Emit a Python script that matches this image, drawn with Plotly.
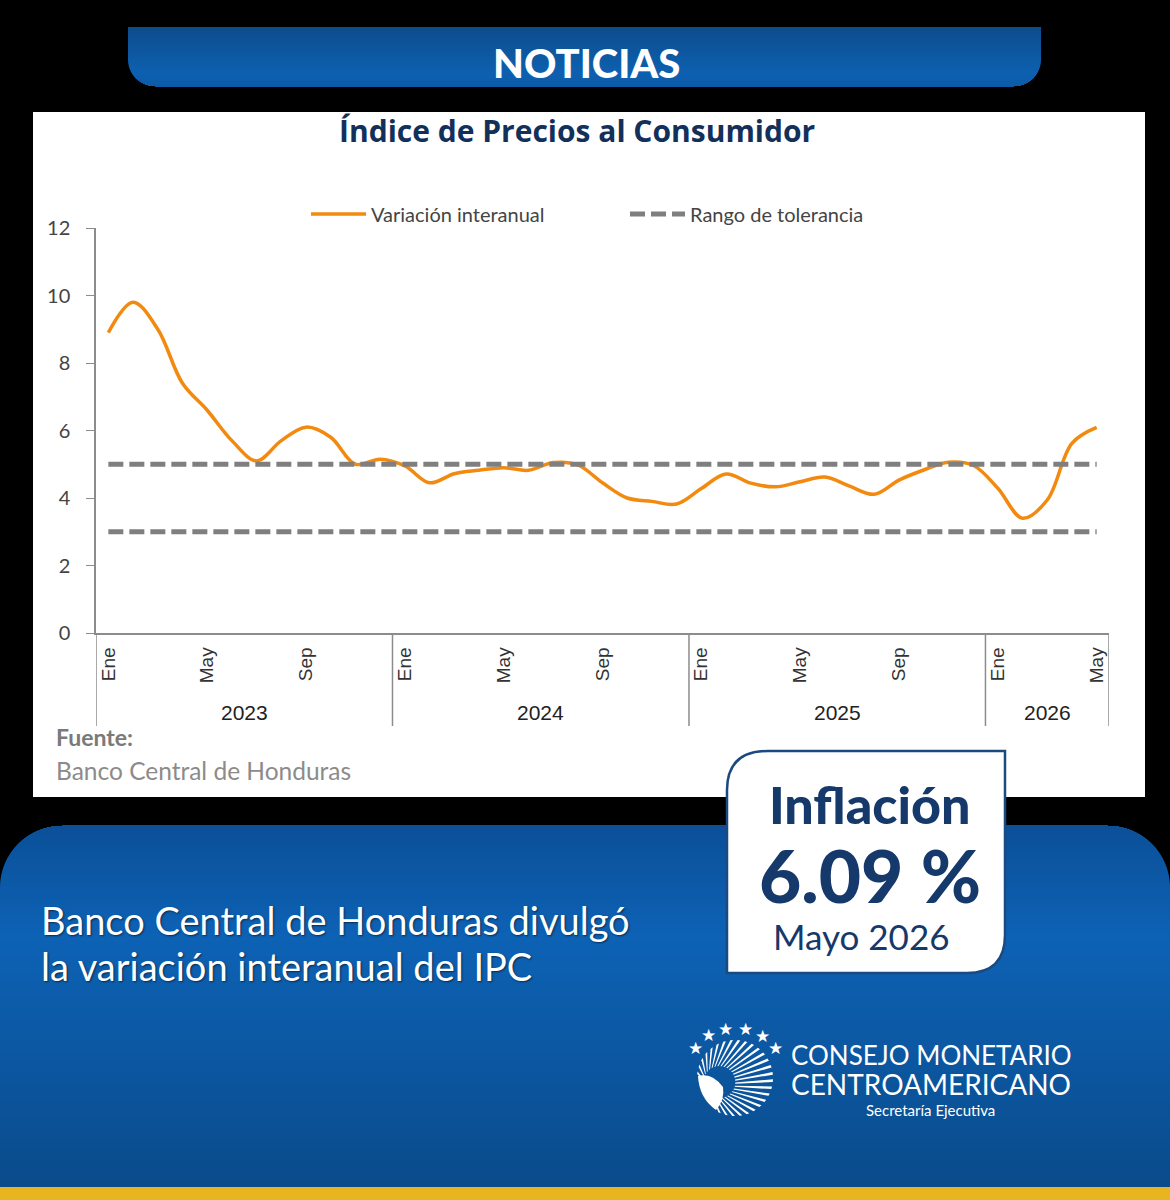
import math
import plotly.graph_objects as go

W, H = 1170, 1200

meses = ["Ene", "Feb", "Mar", "Abr", "May", "Jun", "Jul", "Ago", "Sep", "Oct", "Nov", "Dic"]
anios = [2023, 2024, 2025, 2026]
meses_por_anio = [12, 12, 12, 5]
etiquetas_mes = ["Ene", "May", "Sep"]

ipc_2023 = [8.9, 9.8, 9.0, 7.4, 6.6, 5.7, 5.1, 5.7, 6.1, 5.8, 5.0, 5.15]
ipc_2024 = [4.95, 4.45, 4.72, 4.82, 4.9, 4.82, 5.05, 4.98, 4.45, 4.0, 3.9, 3.82]
ipc_2025 = [4.28, 4.71, 4.44, 4.33, 4.48, 4.62, 4.35, 4.11, 4.53, 4.83, 5.06, 4.97]
ipc_2026 = [4.29, 3.4, 3.94, 5.62, 6.09]
rango_sup = [5] * 41
rango_inf = [3] * 41

categorias = [f"{m} {a}" for a, n in zip(anios, meses_por_anio) for m in meses[:n]]
ipc = ipc_2023 + ipc_2024 + ipc_2025 + ipc_2026
ticks = [c for c in categorias if c.split()[0] in etiquetas_mes]
ticks_txt = [c.split()[0] for c in ticks]

FONT = "Lato"
AZUL = "#16396b"
GRIS = "#7f7f7f"


# pixel position on the page -> paper fraction
def px(x):
    return x / W


def py(y):
    return 1 - y / H


def ruta(pts):
    # pts: list of (command, x, y, ...) in page pixels
    out = []
    for p in pts:
        cmd, vals = p[0], p[1:]
        coords = [px(v) if i % 2 == 0 else py(v) for i, v in enumerate(vals)]
        out.append(cmd + " " + " ".join(f"{c:.5f}" for c in coords))
    return " ".join(out) + " Z"


def mezcla(c1, c2, t):
    a = [int(c1[i:i + 2], 16) for i in (1, 3, 5)]
    b = [int(c2[i:i + 2], 16) for i in (1, 3, 5)]
    return "rgb(" + ",".join(str(round(a[i] + (b[i] - a[i]) * t)) for i in range(3)) + ")"


def degradado(y, paradas):
    for (y0, c0), (y1, c1) in zip(paradas, paradas[1:]):
        if y <= y1:
            return mezcla(c0, c1, (y - y0) / (y1 - y0))
    return paradas[-1][1]


def rect(x0, y0, x1, y1, color):
    return dict(type="rect", xref="paper", yref="paper", x0=px(x0), x1=px(x1), y0=py(y0), y1=py(y1),
                fillcolor=color, line_width=0, layer="below")


def texto(x, y, s, size, color, anchor="center", bold=False, family=FONT, shadow=None, weight=None):
    f = dict(family=family, size=size, color=color)
    if bold:
        f["weight"] = weight or 700
    if shadow:
        f["shadow"] = shadow
    return dict(x=px(x), y=py(y), xref="paper", yref="paper", text=s, showarrow=False,
                xanchor=anchor, yanchor="middle", font=f)


shapes = []
annots = []

# white panel
shapes.append(rect(33, 112, 1145, 797, "white"))

# top banner
stops_top = [(27, "#0d4c8c"), (72, "#0d60b0"), (87, "#0c5aa6")]
for y in range(27, 87):
    r = 27
    dy = max(0, y + 1 - (87 - r))
    ins = r - math.sqrt(max(0, r * r - dy * dy))
    shapes.append(rect(128 + ins, y, 1041 - ins, y + 1, degradado(y, stops_top)))

# bottom panel
stops_bot = [(825, "#0b4f98"), (935, "#0d62b5"), (1187, "#0a4b8b")]
for y in range(825, 1187):
    r = 62
    dy = max(0, (825 + r) - y)
    ins = r - math.sqrt(max(0, r * r - dy * dy))
    shapes.append(rect(ins, y, W - ins, y + 1, degradado(y, stops_bot)))
shapes.append(rect(0, 1187, W, 1200, "#e8b521"))

# inflation callout
shapes.append(dict(type="path", xref="paper", yref="paper", layer="below", fillcolor="white",
                   line=dict(color="#1a4a80", width=2.5),
                   path=ruta([("M", 727, 790), ("Q", 727, 751, 768, 751), ("L", 1005, 751), ("L", 1005, 935),
                              ("Q", 1005, 973, 967, 973), ("L", 727, 973)])))

# logo fan
cx, cy, rad = 735, 1078, 38
ox, oy = 708, 1085
for i in range(27):
    ang = math.radians(172 - i * 11)
    a1 = ang + 0.035
    a2 = ang - 0.035
    e1 = (cx + rad * math.cos(a1), cy - rad * math.sin(a1))
    e2 = (cx + rad * math.cos(a2), cy - rad * math.sin(a2))
    s1 = (ox + (e1[0] - ox) * 0.42, oy + (e1[1] - oy) * 0.42)
    s2 = (ox + (e2[0] - ox) * 0.42, oy + (e2[1] - oy) * 0.42)
    shapes.append(dict(type="path", xref="paper", yref="paper", layer="below", fillcolor="white", line_width=0,
                       path=ruta([("M", *s1), ("L", *e1), ("L", *e2), ("L", *s2)])))
shapes.append(dict(type="path", xref="paper", yref="paper", layer="below", fillcolor="white", line_width=0,
                   path=ruta([("M", 698, 1076), ("Q", 712, 1072, 723, 1087), ("Q", 725, 1100, 716, 1110),
                              ("Q", 699, 1098, 698, 1076)])))
for sx, sy in [(695, 1048), (708, 1035), (725, 1029), (745, 1029), (762, 1036), (775, 1048)]:
    annots.append(texto(sx, sy, "★", 17, "white", family="DejaVu Sans"))

# year dividers, from the month counts
pos = -0.5
cortes = [pos]
for a, n in zip(anios, meses_por_anio):
    annots.append(dict(x=pos + n / 2, y=py(712), xref="x", yref="paper", text=str(a), showarrow=False,
                       yanchor="middle", font=dict(family="Liberation Sans", size=21, color="#222222")))
    pos += n
    cortes.append(pos)
for c in cortes:
    shapes.append(dict(type="line", xref="x", yref="paper", x0=c, x1=c, y0=py(633), y1=py(726),
                       line=dict(color="#8c8c8c", width=1.5), layer="above"))

# page text
sombra = "1px 1px 2px rgba(0,0,0,0.55)"
annots += [
    texto(586, 63, "NOTICIAS", 40, "white", bold=True, weight=900),
    texto(577, 131, "Índice de Precios al Consumidor", 30, "#12305a", bold=True, family="Open Sans"),
    texto(54, 737, "Fuente:", 23, "#7a7a7a", anchor="left", bold=True),
    texto(54, 770, "Banco Central de Honduras", 24.5, "#8b8b8b", anchor="left"),
    texto(870, 804, "Inflación", 52, AZUL, bold=True, weight=900),
    texto(870, 875, "6.09 %", 73, AZUL, bold=True, weight=900),
    texto(861, 936, "Mayo 2026", 35, AZUL),
    texto(39, 920, "Banco Central de Honduras divulgó", 38, "white", anchor="left", shadow=sombra),
    texto(39, 966, "la variación interanual del IPC", 38, "white", anchor="left", shadow=sombra),
    texto(789, 1055, "CONSEJO MONETARIO", 26, "white", anchor="left"),
    texto(789, 1084, "CENTROAMERICANO", 28, "white", anchor="left"),
    texto(931, 1110, "Secretaría Ejecutiva", 15, "white"),
]

fig = go.Figure()
fig.add_trace(go.Scatter(x=categorias, y=ipc, mode="lines", name="Variación interanual",
                         line=dict(color="#f28a0f", width=3.5, shape="spline", smoothing=1.0)))
fig.add_trace(go.Scatter(x=categorias, y=rango_sup, mode="lines", name="Rango de tolerancia",
                         line=dict(color=GRIS, width=5, dash="15px,6px")))
fig.add_trace(go.Scatter(x=categorias, y=rango_inf, mode="lines", showlegend=False,
                         line=dict(color=GRIS, width=5, dash="15px,6px")))

fig.update_layout(
    width=W, height=H, margin=dict(l=0, r=0, t=0, b=0, autoexpand=False),
    paper_bgcolor="black", plot_bgcolor="rgba(0,0,0,0)",
    shapes=shapes, annotations=annots,
    legend=dict(orientation="h", x=px(306), y=py(214), xanchor="left", yanchor="middle",
                itemwidth=55, entrywidth=249, entrywidthmode="pixels", bgcolor="rgba(0,0,0,0)",
                font=dict(family=FONT, size=20, color="#444444")),
    xaxis=dict(domain=[px(96), px(1109)], type="category", categoryorder="array", categoryarray=categorias,
               range=[-0.5, 40.5], tickmode="array", tickvals=ticks, ticktext=ticks_txt, tickangle=-90,
               showgrid=False, showline=True, linecolor="#8c8c8c", linewidth=1.5, ticks="", zeroline=False,
               ticklabelstandoff=5, tickfont=dict(family="Liberation Sans", size=19, color="#333333")),
    yaxis=dict(domain=[py(633), py(228)], range=[0, 12], tick0=0, dtick=2, showgrid=False, zeroline=False,
               showline=True, linecolor="#8c8c8c", linewidth=1.5, ticks="outside", ticklen=8, tickcolor="#8c8c8c",
               tickfont=dict(family=FONT, size=20, color="#444444"), ticklabelstandoff=12),
)

fig.write_html("out.html", config={"displayModeBar": False},
               post_script="document.body.style.margin='0';document.body.style.background='black';")
